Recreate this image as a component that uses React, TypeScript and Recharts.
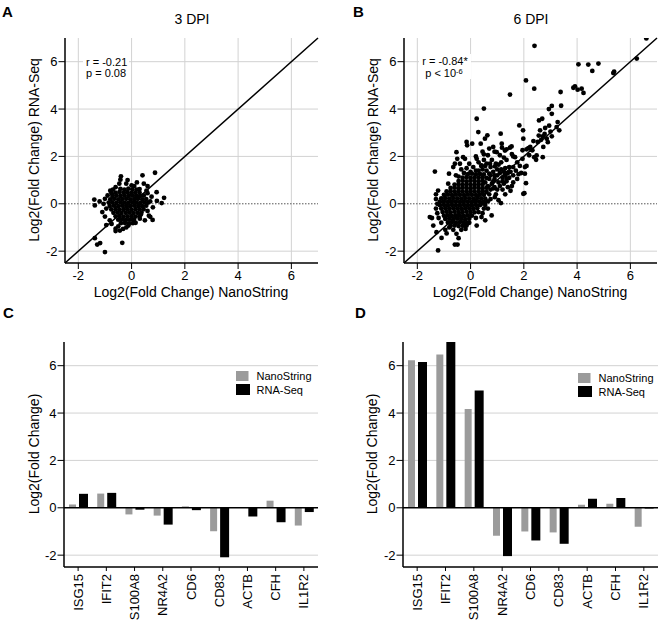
import React from 'react';
import {
  ScatterChart,
  Scatter,
  XAxis,
  YAxis,
  CartesianGrid,
  ReferenceLine,
  BarChart,
  Bar,
} from 'recharts';

const FONT = '"Liberation Sans", Arial, Helvetica, sans-serif';

// ---------- shared axis values ----------
const axisTicks = [-2, 0, 2, 4, 6];
const gridTicksY = [-2, 2, 4, 6];
const axisDomain: [number, number] = [-2.5, 7];

// ---------- bar chart data ----------
const genes = ['ISG15', 'IFIT2', 'S100A8', 'NR4A2', 'CD6', 'CD83', 'ACTB', 'CFH', 'IL1R2'];
const nanoDpi3 = [0.14, 0.6, -0.28, -0.33, 0.06, -0.99, 0.02, 0.3, -0.75];
const rnaDpi3 = [0.59, 0.63, -0.08, -0.71, -0.1, -2.09, -0.37, -0.61, -0.18];
const nanoDpi6 = [6.23, 6.47, 4.17, -1.18, -1.0, -1.04, 0.13, 0.17, -0.8];
const rnaDpi6 = [6.16, 7.0, 4.95, -2.04, -1.38, -1.52, 0.38, 0.41, -0.03];

// ---------- scatter data: 3 DPI ----------
const dpi3Core: [number, number][] = [
  [-0.42, 0.63], [-0.27, 0.6], [-0.12, 0.64], [0.03, 0.61], [0.2, 0.6],
  [-0.6, 0.47], [-0.45, 0.5], [-0.3, 0.47], [-0.16, 0.49], [-0.01, 0.46], [0.14, 0.48], [0.3, 0.47],
  [-0.72, 0.33], [-0.57, 0.35], [-0.42, 0.33], [-0.27, 0.35], [-0.12, 0.33], [0.02, 0.35], [0.17, 0.34], [0.32, 0.33], [0.46, 0.35],
  [-0.8, 0.19], [-0.65, 0.21], [-0.5, 0.19], [-0.35, 0.2], [-0.2, 0.21], [-0.05, 0.19], [0.1, 0.2], [0.24, 0.21], [0.4, 0.19], [0.55, 0.2],
  [-0.86, 0.05], [-0.72, 0.06], [-0.57, 0.04], [-0.42, 0.06], [-0.28, 0.05], [-0.13, 0.04], [0.02, 0.06], [0.17, 0.05], [0.32, 0.04], [0.47, 0.06], [0.62, 0.05],
  [-0.82, -0.09], [-0.66, -0.08], [-0.5, -0.1], [-0.35, -0.08], [-0.2, -0.09], [-0.05, -0.1], [0.1, -0.08], [0.25, -0.09], [0.4, -0.1], [0.55, -0.08],
  [-0.76, -0.24], [-0.6, -0.23], [-0.45, -0.25], [-0.3, -0.23], [-0.15, -0.24], [0.0, -0.25], [0.15, -0.23], [0.3, -0.24], [0.45, -0.23],
  [-0.68, -0.38], [-0.53, -0.37], [-0.38, -0.39], [-0.22, -0.38], [-0.08, -0.37], [0.07, -0.39], [0.22, -0.38], [0.37, -0.37],
  [-0.6, -0.53], [-0.45, -0.52], [-0.3, -0.54], [-0.15, -0.53], [0.0, -0.52], [0.15, -0.54], [0.3, -0.53],
  [-0.5, -0.67], [-0.36, -0.66], [-0.21, -0.68], [-0.06, -0.67], [0.09, -0.66],
  [-0.4, -0.82], [-0.25, -0.81], [-0.1, -0.83], [0.05, -0.82],
];
const dpi3Outer: [number, number][] = [
  [-0.4, 1.16], [-0.42, 1.02], [-0.46, 0.85], [0.0, 0.78], [0.41, 1.2], [0.46, 0.85], [0.88, 1.31],
  [0.56, 0.56], [0.94, 0.49], [1.22, 0.25], [1.13, 0.03], [0.95, 0.12], [0.79, -0.68], [0.31, -0.63],
  [-1.4, 0.18], [-1.38, -0.07], [-1.0, 0.21], [-0.75, 0.45], [-1.0, -0.54], [-0.75, -0.85], [-0.82, -0.7],
  [-0.44, -1.13], [-0.32, -1.06], [-0.12, -0.92], [-0.35, -1.65], [-1.38, -1.45], [-1.29, -1.72],
  [-1.18, -1.66], [-1.0, -2.04], [-0.6, -1.05], [-0.5, -0.95], [-0.2, -1.0], [0.15, -0.8], [0.35, -0.45],
  [0.6, -0.3], [0.7, 0.1], [0.75, 0.3], [0.6, 0.45], [-0.95, -0.2], [-1.05, 0.0], [-0.9, 0.35],
  [-0.6, 0.7], [-0.2, 0.85], [0.1, 0.75], [0.3, 0.62], [-0.15, 1.0], [0.2, 0.9], [0.65, -0.5],
  [0.5, -0.7], [-0.95, -0.9], [-1.1, -0.35], [0.8, -0.15], [-0.7, 0.6],
  [0.6, 0.75], [-0.8, 0.55], [-1.2, 0.1], [0.7, -0.55], [-0.6, -1.15],
];

// ---------- scatter data: 6 DPI ----------
const dpi6Core: [number, number][] = [
  [-0.1, 1.25], [0.05, 1.27], [0.2, 1.24], [0.35, 1.26], [0.5, 1.24], [0.7, 1.27],
  [-0.3, 1.1], [-0.15, 1.12], [0.0, 1.09], [0.15, 1.11], [0.3, 1.1], [0.45, 1.12], [0.6, 1.09],
  [-0.45, 0.96], [-0.3, 0.97], [-0.15, 0.95], [0.0, 0.97], [0.15, 0.96], [0.3, 0.95], [0.45, 0.97],
  [-0.6, 0.81], [-0.45, 0.82], [-0.3, 0.8], [-0.15, 0.82], [0.0, 0.81], [0.15, 0.8], [0.3, 0.82], [0.45, 0.81],
  [-0.75, 0.67], [-0.6, 0.68], [-0.45, 0.66], [-0.3, 0.68], [-0.15, 0.67], [0.0, 0.66], [0.15, 0.68], [0.3, 0.67], [0.45, 0.66], [0.6, 0.68],
  [-0.9, 0.52], [-0.75, 0.53], [-0.6, 0.51], [-0.45, 0.53], [-0.3, 0.52], [-0.15, 0.51], [0.0, 0.53], [0.15, 0.52], [0.3, 0.51], [0.45, 0.53],
  [-1.0, 0.38], [-0.85, 0.39], [-0.7, 0.37], [-0.55, 0.39], [-0.4, 0.38], [-0.25, 0.37], [-0.1, 0.39], [0.05, 0.38], [0.2, 0.37], [0.35, 0.39], [0.5, 0.38],
  [-1.1, 0.23], [-0.95, 0.24], [-0.8, 0.22], [-0.65, 0.24], [-0.5, 0.23], [-0.35, 0.22], [-0.2, 0.24], [-0.05, 0.23], [0.1, 0.22], [0.25, 0.24], [0.4, 0.23], [0.55, 0.22],
  [-1.15, 0.09], [-1.0, 0.1], [-0.85, 0.08], [-0.7, 0.1], [-0.55, 0.09], [-0.4, 0.08], [-0.25, 0.1], [-0.1, 0.09], [0.05, 0.08], [0.2, 0.1], [0.35, 0.09], [0.5, 0.08],
  [-1.15, -0.06], [-1.0, -0.05], [-0.85, -0.07], [-0.7, -0.05], [-0.55, -0.06], [-0.4, -0.07], [-0.25, -0.05], [-0.1, -0.06], [0.05, -0.07], [0.2, -0.05], [0.35, -0.06],
  [-1.1, -0.2], [-0.95, -0.19], [-0.8, -0.21], [-0.65, -0.19], [-0.5, -0.2], [-0.35, -0.21], [-0.2, -0.19], [-0.05, -0.2], [0.1, -0.21], [0.25, -0.19],
  [-1.05, -0.35], [-0.9, -0.34], [-0.75, -0.36], [-0.6, -0.34], [-0.45, -0.35], [-0.3, -0.36], [-0.15, -0.34], [0.0, -0.35], [0.15, -0.36],
  [-1.0, -0.5], [-0.85, -0.49], [-0.7, -0.51], [-0.55, -0.49], [-0.4, -0.5], [-0.25, -0.51], [-0.1, -0.49], [0.05, -0.5],
  [-0.95, -0.64], [-0.8, -0.63], [-0.65, -0.65], [-0.5, -0.63], [-0.35, -0.64], [-0.2, -0.65], [-0.05, -0.63],
  [-0.85, -0.79], [-0.7, -0.78], [-0.55, -0.8], [-0.4, -0.78], [-0.25, -0.79], [-0.1, -0.8],
  [-0.75, -0.93], [-0.6, -0.92], [-0.45, -0.94], [-0.3, -0.93],
];
const dpi6Outer: [number, number][] = [
  [-1.34, 1.36], [-1.53, -0.56], [-1.45, -0.6], [-1.4, -0.92], [-1.22, -1.97], [-1.28, -1.2], [-1.09, -1.44],
  [-0.59, -1.72], [-0.49, -1.72], [-0.53, -1.27], [-0.45, -1.45], [-0.19, -1.06], [-0.15, -0.92], [0.23, -0.92],
  [0.41, -0.56], [0.79, -0.49], [0.55, -0.7], [1.14, 0.03], [0.65, -0.2], [0.91, 0.28], [1.98, 0.42],
  [-0.59, 1.69], [-0.21, 1.9], [-0.55, 1.2], [-0.84, 0.85], [-1.22, 0.56], [-1.3, 0.2], [-1.3, -0.2],
  [-1.25, -0.4], [-0.95, -1.1], [-0.8, -1.0], [-0.65, -1.1], [-0.35, -1.1], [-0.05, -0.8], [0.2, -0.6],
  [0.3, -0.35], [0.5, -0.2], [0.65, 0.1], [0.7, 0.4], [0.75, 0.6], [0.8, 0.85],
  [0.6, 1.4], [0.75, 1.55], [0.9, 1.2], [1.0, 1.45], [1.1, 1.3], [1.2, 1.1], [1.3, 1.2], [0.85, 0.95],
  [0.7, 1.05], [1.05, 0.9], [1.25, 0.85], [1.35, 0.95], [1.45, 1.1], [0.95, 1.7], [0.8, 1.85], [0.6, 1.7],
  [0.4, 1.6], [0.5, 1.85], [0.3, 1.75], [0.65, 2.05], [1.15, 1.75], [1.3, 1.5], [1.5, 1.35], [1.6, 1.2],
  [1.4, 0.7], [1.2, 0.6], [1.0, 0.6], [0.95, 0.4], [1.05, 0.15], [1.5, 0.55], [1.6, 0.9], [1.75, 1.05],
  [1.7, 1.4], [1.85, 1.6], [1.9, 1.3], [2.04, 1.55], [2.04, 1.27], [2.08, 0.87], [2.02, 0.45], [2.1, 1.6],
  [1.95, 1.9], [1.6, 2.0], [1.35, 1.85], [1.1, 2.05], [0.9, 2.2], [0.45, 2.2], [0.2, 2.0], [0.1, 1.55],
  [-0.15, 1.5], [-0.35, 1.45], [-0.4, 1.69], [-0.5, 1.9], [-0.53, 2.18], [-0.15, 2.61], [-0.13, 2.47],
  [0.06, 2.54], [0.38, 2.54], [0.54, 2.75], [0.7, 2.33], [0.23, 1.9], [-0.05, 1.69], [0.73, 1.69],
  [0.91, 1.58], [1.13, 2.96], [0.63, 2.89], [0.29, 3.03], [1.17, 2.54], [1.18, 2.37], [1.35, 2.3],
  [1.48, 2.37], [1.55, 2.1], [0.23, 3.59], [0.5, 4.02], [1.48, 4.61], [2.08, 5.21], [2.39, 4.86], [2.4, 6.67],
  [-0.81, 1.27], [-0.65, 1.55], [-0.28, 1.97], [0.41, 1.62], [0.5, 2.09], [0.85, 2.4], [0.98, 2.18],
  [1.29, 2.25], [1.54, 2.42], [1.67, 1.97],
  [0.55, 0.9], [0.65, 0.75], [0.75, 1.2], [0.9, 1.05], [1.0, 1.2], [1.15, 1.45], [1.25, 1.35], [1.4, 1.3],
  [1.45, 1.55], [1.6, 1.55], [1.75, 1.75], [1.2, 0.95], [1.1, 0.75], [0.85, 0.65], [0.6, 0.5], [0.75, 0.2],
  [0.9, 0.7], [1.35, 1.05], [1.55, 0.75], [1.8, 1.25], [1.3, 0.4], [0.45, 1.45], [0.2, 1.4], [0.0, 1.35],
  [-0.25, 1.3], [-0.45, 1.15], [0.3, 1.4], [0.55, 1.6], [0.85, 1.35], [1.05, 1.65], [1.25, 1.95],
  [0.4, 0.0], [0.55, -0.05], [0.45, -0.4], [-1.3, 0.4], [-1.25, 0.0], [-1.2, -0.6], [-1.1, -0.8],
  [-0.9, -1.25], [-0.2, -0.9],
  [1.83, 3.31], [1.97, 3.1], [1.95, 2.26], [2.32, 2.26], [2.39, 1.97], [2.46, 1.86], [1.98, 2.75],
  [2.1, 2.3], [2.2, 2.05], [2.17, 2.35], [2.24, 2.4], [2.36, 2.65], [2.52, 2.61], [2.56, 2.88],
  [2.71, 2.85], [2.86, 2.75], [2.78, 2.95], [3.05, 2.85], [3.23, 3.24], [3.33, 3.1], [3.27, 3.45],
  [2.69, 3.59], [2.57, 3.52], [2.61, 3.1], [2.94, 4.0], [3.05, 3.8], [3.05, 4.13], [3.4, 4.14],
  [3.38, 4.72], [2.95, 3.3], [2.8, 3.2], [2.65, 2.7], [2.9, 2.6], [3.0, 3.05],
  [2.29, 2.28], [2.48, 2.04], [2.71, 1.97], [2.73, 2.4],
  [4.05, 5.89], [4.42, 5.88], [4.8, 5.92], [4.57, 5.61], [5.36, 5.52], [5.39, 5.58], [6.24, 6.13],
  [6.6, 6.98], [4.17, 4.86], [3.92, 4.96], [3.86, 4.9], [4.02, 4.82], [4.24, 4.68],
];

const toXY = (pts: [number, number][]) => pts.map(([x, y]) => ({ x, y }));

const Dot = (p: any) => <circle cx={p.cx} cy={p.cy} r={2.4} fill="#000" />;

const tickStyle = { fill: '#000', fontSize: 13, fontFamily: FONT };
const axisLineStyle = { stroke: '#000', strokeWidth: 1.5 };
const tickLineStyle = { stroke: '#000', strokeWidth: 1 };

const Y_AXIS_W = 40;
const X_AXIS_H = 30;

function ScatterPanel(props: {
  points: { x: number; y: number }[];
  left: number;
  plotLeft: number;
  marginRight: number;
}) {
  return (
    <div style={{ position: 'absolute', left: props.left, top: 0 }}>
      <ScatterChart
        width={330}
        height={310}
        margin={{
          top: 38,
          right: props.marginRight,
          bottom: 47 - X_AXIS_H,
          left: props.plotLeft - Y_AXIS_W,
        }}
      >
        <CartesianGrid
          stroke="#d2d2d2"
          strokeWidth={1}
          horizontalValues={gridTicksY}
          verticalValues={axisTicks}
        />
        <XAxis
          type="number"
          dataKey="x"
          domain={axisDomain}
          ticks={axisTicks}
          interval={0}
          allowDataOverflow
          height={X_AXIS_H}
          tickSize={6}
          tickMargin={2}
          axisLine={axisLineStyle}
          tickLine={tickLineStyle}
          tick={tickStyle}
        />
        <YAxis
          type="number"
          dataKey="y"
          domain={axisDomain}
          ticks={axisTicks}
          interval={0}
          allowDataOverflow
          width={Y_AXIS_W}
          tickSize={6.5}
          tickMargin={1}
          axisLine={axisLineStyle}
          tickLine={tickLineStyle}
          tick={tickStyle}
        />
        <ReferenceLine y={0} stroke="#555" strokeWidth={1} strokeDasharray="1.5 1.5" />
        <ReferenceLine
          segment={[
            { x: -2.5, y: -2.5 },
            { x: 7, y: 7 },
          ]}
          stroke="#000"
          strokeWidth={1.5}
        />
        <Scatter data={props.points} isAnimationActive={false} shape={Dot} />
      </ScatterChart>
    </div>
  );
}

const RotTick = (p: any) => {
  const { x, y, payload } = p;
  return (
    <text
      x={x}
      y={y}
      transform={`rotate(-90 ${x} ${y})`}
      textAnchor="end"
      dx={-1}
      dy={4.6}
      fontSize={13}
      fontFamily={FONT}
      fill="#000"
    >
      {payload.value}
    </text>
  );
};

function BarPanel(props: {
  nano: number[];
  rna: number[];
  left: number;
  plotLeft: number;
  marginRight: number;
}) {
  const data = genes.map((g, i) => ({ gene: g, nano: props.nano[i], rna: props.rna[i] }));
  return (
    <div style={{ position: 'absolute', left: props.left, top: 310 }}>
      <BarChart
        width={330}
        height={313}
        data={data}
        barGap={3}
        margin={{
          top: 32,
          right: props.marginRight,
          bottom: 56 - 50,
          left: props.plotLeft - Y_AXIS_W,
        }}
      >
        <CartesianGrid stroke="#d2d2d2" strokeWidth={1} vertical={false} horizontalValues={gridTicksY} />
        <XAxis
          dataKey="gene"
          type="category"
          interval={0}
          height={50}
          tickSize={4}
          tickMargin={2}
          axisLine={axisLineStyle}
          tickLine={tickLineStyle}
          tick={RotTick}
        />
        <YAxis
          type="number"
          domain={axisDomain}
          ticks={axisTicks}
          interval={0}
          allowDataOverflow
          width={Y_AXIS_W}
          tickSize={6.5}
          tickMargin={1}
          axisLine={axisLineStyle}
          tickLine={tickLineStyle}
          tick={tickStyle}
        />
        <Bar dataKey="nano" name="NanoString" fill="#9b9b9b" barSize={7} isAnimationActive={false} />
        <Bar dataKey="rna" name="RNA-Seq" fill="#000" barSize={9} isAnimationActive={false} />
        <ReferenceLine y={0} stroke="#000" strokeWidth={1.5} />
      </BarChart>
    </div>
  );
}

function LegendBox(props: { x: number; y: number }) {
  const { x, y } = props;
  return (
    <g fontFamily={FONT} fontSize={11} fill="#000">
      <rect x={x} y={y} width={12.5} height={10} fill="#9b9b9b" />
      <text x={x + 20.5} y={y + 9}>NanoString</text>
      <rect x={x} y={y + 13} width={14} height={11} fill="#000" />
      <text x={x + 20.5} y={y + 22.5}>RNA-Seq</text>
    </g>
  );
}

function Overlay() {
  return (
    <svg
      width={660}
      height={623}
      style={{ position: 'absolute', left: 0, top: 0, pointerEvents: 'none' }}
      fontFamily={FONT}
    >
      <g fontSize={15} fontWeight="bold" fill="#000">
        <text x={2} y={17}>A</text>
        <text x={353} y={17}>B</text>
        <text x={3} y={318}>C</text>
        <text x={355} y={318}>D</text>
      </g>
      <g fontSize={14} fill="#000" textAnchor="middle">
        <text x={192} y={24}>3 DPI</text>
        <text x={531} y={24}>6 DPI</text>
      </g>
      <g fontSize={14} fill="#000" textAnchor="middle">
        <text x={191} y={296.5}>Log2(Fold Change) NanoString</text>
        <text x={530} y={296.5}>Log2(Fold Change) NanoString</text>
        <text x={38.5} y={150} transform="rotate(-90 38.5 150)">Log2(Fold Change) RNA-Seq</text>
        <text x={377.5} y={150} transform="rotate(-90 377.5 150)">Log2(Fold Change) RNA-Seq</text>
        <text x={39} y={454} transform="rotate(-90 39 454)">Log2(Fold Change)</text>
        <text x={376.5} y={454} transform="rotate(-90 376.5 454)">Log2(Fold Change)</text>
      </g>
      <rect x={83} y={54} width={46} height={25} fill="#fff" />
      <g fontSize={11} fill="#000">
        <text x={86} y={65.5}>r = -0.21</text>
        <text x={86} y={76.5}>p = 0.08</text>
      </g>
      <rect x={419} y={54} width={52} height={25} fill="#fff" />
      <g fontSize={11} fill="#000" textAnchor="middle">
        <text x={445} y={65}>r = -0.84*</text>
        <text x={444} y={77}>
          p &lt; 10<tspan dy={-3.5} fontSize={7.5}>-6</tspan>
        </text>
      </g>
      <LegendBox x={236} y={371} />
      <LegendBox x={578} y={373} />
    </svg>
  );
}

export default function App() {
  return (
    <div
      style={{
        position: 'absolute',
        left: 0,
        top: 0,
        width: 660,
        height: 623,
        background: '#fff',
        overflow: 'hidden',
      }}
    >
      <ScatterPanel points={toXY([...dpi3Core, ...dpi3Outer])} left={0} plotLeft={65} marginRight={12} />
      <ScatterPanel points={toXY([...dpi6Core, ...dpi6Outer])} left={330} plotLeft={74} marginRight={3} />
      <BarPanel nano={nanoDpi3} rna={rnaDpi3} left={0} plotLeft={64} marginRight={12} />
      <BarPanel nano={nanoDpi6} rna={rnaDpi6} left={330} plotLeft={73} marginRight={2} />
      <Overlay />
    </div>
  );
}
